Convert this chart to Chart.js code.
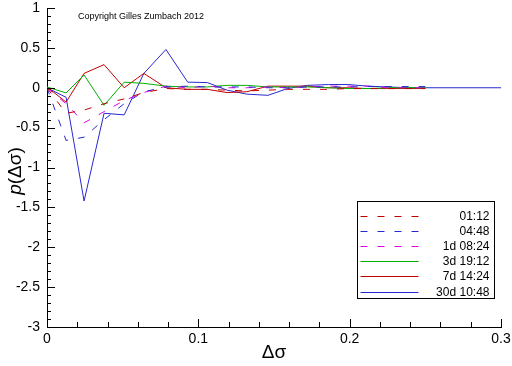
<!DOCTYPE html>
<html>
<head>
<meta charset="utf-8">
<script src="https://cdn.jsdelivr.net/npm/chart.js@4.4.1/dist/chart.umd.min.js"></script>
<style>
  html, body { margin: 0; padding: 0; background: #fff; }
  #wrap { width: 512px; height: 366px; }
</style>
</head>
<body>
<div id="wrap"><canvas id="myChart" width="512" height="366"></canvas></div>
<script>
// delta sigma positions shared by all series
const xs = [0, 0.0126, 0.0245, 0.0377, 0.051, 0.064, 0.0786, 0.093, 0.106, 0.119,
            0.132, 0.146, 0.159, 0.172, 0.186, 0.199, 0.212, 0.225, 0.239, 0.25];
const xsLong = xs.concat([0.3]);

const labels = ['01:12', '04:48', '1d 08:24', '3d 19:12', '7d 14:24', '30d 10:48'];

const s0112 = [0, -0.32, -0.28, -0.2, -0.14, -0.06, -0.01, -0.02, -0.02, -0.03,
               -0.04, -0.03, -0.02, -0.02, -0.02, -0.01, -0.01, -0.01, -0.01, -0.01];
const s0448 = [0, -0.66, -0.62, -0.4, -0.2, -0.05, 0.01, 0.02, 0.01, 0.01,
               0.01, 0, 0, 0.01, 0.01, 0.01, 0.015, 0.015, 0.015, 0.015];
const s1d = [0, -0.2, -0.44, -0.3, -0.16, -0.06, 0.02, 0, 0.02, 0,
             0, 0.01, 0, 0.01, 0.02, 0.02, 0.02, 0, 0, 0];
const s3d = [0.01, -0.065, 0.16, -0.22, 0.07, 0.055, 0.02, 0.01, 0.01, 0.03,
             0.03, 0.01, 0.01, 0.01, 0, -0.01, -0.01, 0, 0, 0];
const s7d = [0.01, -0.18, 0.18, 0.29, 0, 0.18, 0, -0.02, -0.02, -0.06,
             -0.05, 0.02, 0.02, 0.02, 0, 0, -0.01, -0.01, -0.01, -0.01];
const s30d = [0, -0.12, -1.42, -0.32, -0.34, 0.18, 0.48, 0.07, 0.065, -0.03,
              -0.08, -0.095, -0.01, 0.03, 0.04, 0.04, 0.02, 0.01, 0, 0, 0];

const yTicks = [1, 0.5, 0, -0.5, -1, -1.5, -2, -2.5, -3];
const xTicks = [0, 0.1, 0.2, 0.3];

const FONT = '"Liberation Sans", Arial, sans-serif';

function pts(xv, yv) {
    return yv.map((v, i) => ({ x: xv[i], y: v }));
}

function makeSet(label, xv, yv, color, dashed) {
    return {
        label: label,
        data: pts(xv, yv),
        borderColor: color,
        backgroundColor: color,
        borderWidth: 1,
        borderDash: dashed ? [7, 10] : [],
        pointRadius: 0,
        tension: 0,
        fill: false
    };
}

// ticks drawn inward, titles, copyright and boxed legend
const decorations = {
    id: 'decorations',
    afterDraw(chart) {
        const ctx = chart.ctx;
        const xs_ = chart.scales.x;
        const ys_ = chart.scales.y;
        const area = chart.chartArea;
        ctx.save();
        ctx.strokeStyle = '#000';
        ctx.lineWidth = 1;
        ctx.beginPath();
        for (let i = 0; i <= 40; i++) {
            const v = -3 + i * 0.1;
            const py = Math.round(ys_.getPixelForValue(v)) + 0.5;
            const len = (i % 5 === 0) ? 8 : 4;
            ctx.moveTo(area.left, py);
            ctx.lineTo(area.left + len, py);
        }
        for (let i = 0; i <= 15; i++) {
            const v = i * 0.02;
            const px = Math.round(xs_.getPixelForValue(v)) + 0.5;
            const len = (i % 5 === 0) ? 8 : 5;
            ctx.moveTo(px, area.bottom);
            ctx.lineTo(px, area.bottom - len);
        }
        ctx.stroke();

        ctx.fillStyle = '#000';
        ctx.font = '9px ' + FONT;
        ctx.textAlign = 'left';
        ctx.textBaseline = 'middle';
        ctx.fillText('Copyright Gilles Zumbach 2012', 78, 17);

        ctx.font = '19px ' + FONT;
        ctx.textAlign = 'center';
        ctx.fillText('\u0394\u03c3', (area.left + area.right) / 2, 353);

        ctx.save();
        ctx.translate(16, 171);
        ctx.rotate(-Math.PI / 2);
        ctx.font = 'italic 19px ' + FONT;
        const pW = ctx.measureText('p').width;
        ctx.font = '19px ' + FONT;
        const restW = ctx.measureText('(\u0394\u03c3)').width;
        const start = -(pW + restW) / 2;
        ctx.textAlign = 'left';
        ctx.font = 'italic 19px ' + FONT;
        ctx.fillText('p', start, 0);
        ctx.font = '19px ' + FONT;
        ctx.fillText('(\u0394\u03c3)', start + pW, 0);
        ctx.restore();

        // legend box
        const bx = 357.5, by = 201.5, bw = 137, bh = 97;
        ctx.fillStyle = '#fff';
        ctx.fillRect(bx, by, bw, bh);
        ctx.strokeStyle = '#000';
        ctx.strokeRect(bx, by, bw, bh);
        ctx.font = '12px ' + FONT;
        ctx.textAlign = 'right';
        ctx.textBaseline = 'middle';
        chart.data.datasets.forEach((ds, i) => {
            const ry = Math.round(by + 14 + i * 15.2) + 0.5;
            ctx.strokeStyle = ds.borderColor;
            ctx.setLineDash(ds.borderDash);
            ctx.beginPath();
            ctx.moveTo(bx + 3, ry);
            ctx.lineTo(bx + 61, ry);
            ctx.stroke();
            ctx.setLineDash([]);
            ctx.fillStyle = '#000';
            ctx.fillText(ds.label, bx + bw - 5, ry);
        });
        ctx.restore();
    }
};

const ctx = document.getElementById('myChart').getContext('2d');
const myChart = new Chart(ctx, {
    type: 'line',
    data: {
        datasets: [
            makeSet(labels[0], xs, s0112, '#c00000', true),
            makeSet(labels[1], xs, s0448, '#2828d0', true),
            makeSet(labels[2], xs, s1d, '#e000e0', true),
            makeSet(labels[3], xs, s3d, '#00b000', false),
            makeSet(labels[4], xs, s7d, '#c00000', false),
            makeSet(labels[5], xsLong, s30d, '#2828d0', false)
        ]
    },
    options: {
        responsive: false,
        animation: false,
        layout: { padding: { top: 8, right: 11, left: 0, bottom: 0 } },
        plugins: { legend: { display: false }, tooltip: { enabled: false } },
        scales: {
            x: {
                type: 'linear',
                min: 0,
                max: 0.3,
                afterBuildTicks: (s) => { s.ticks = xTicks.map(v => ({ value: v })); },
                afterFit: (s) => {
                    s.height = 39;
                    s.paddingLeft = 0;
                    s.paddingRight = 0;
                },
                grid: { display: false, drawTicks: false },
                border: { display: true, color: '#000', width: 1 },
                ticks: {
                    color: '#000',
                    padding: 4,
                    maxRotation: 0,
                    font: { family: FONT, size: 14 },
                    callback: (v) => String(v)
                }
            },
            y: {
                type: 'linear',
                min: -3,
                max: 1,
                afterBuildTicks: (s) => { s.ticks = yTicks.map(v => ({ value: v })); },
                afterFit: (s) => {
                    s.width = 47;
                    s.paddingTop = 0;
                    s.paddingBottom = 0;
                },
                grid: { display: false, drawTicks: false },
                border: { display: true, color: '#000', width: 1 },
                ticks: {
                    color: '#000',
                    padding: 7,
                    font: { family: FONT, size: 14 },
                    callback: (v) => String(v)
                }
            }
        }
    },
    plugins: [decorations]
});
</script>
</body>
</html>
